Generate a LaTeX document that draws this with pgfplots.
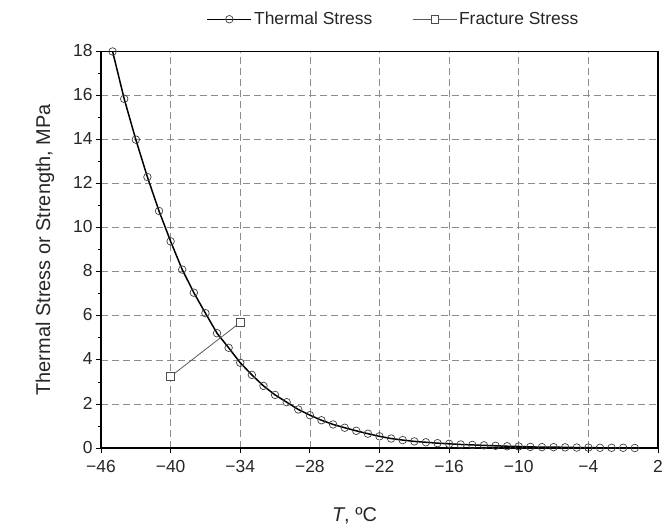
\documentclass[border=0pt]{standalone}
\usepackage{pgfplots}
\pgfplotsset{compat=1.18}
\usepackage{fontspec}
\setmainfont{Liberation Sans}
\usetikzlibrary{calc}
\begin{document}
\begin{tikzpicture}
\begin{axis}[
  name=ax,
  scale only axis,
  width=557bp, height=396.5bp,
  xmin=-46, xmax=2, ymin=0, ymax=18,
  xtick={-46,-40,-34,-28,-22,-16,-10,-4,2},
  xticklabels={−46,−40,−34,−28,−22,−16,−10,−4,2},
  ytick={0,2,4,6,8,10,12,14,16,18},
  minor y tick num=1,
  tick align=outside,
  xtick pos=left, ytick pos=left,
  major tick length=5bp, minor tick length=3bp,
  tick style={black, line width=0.8pt},
  axis line style={black, line width=1.4pt},
  grid=major,
  major grid style={dashed, gray!90, line width=0.7pt, dash pattern=on 7pt off 4pt},
  /pgf/number format/assume math mode=true,
  tick label style={font=\fontsize{17.5}{20}\selectfont, text=black!85},
  xticklabel style={yshift=-4bp},
  yticklabel style={yshift=1bp},
  label style={font=\fontsize{20}{23}\selectfont, text=black!85},
  xlabel={\textit{T}, ºC},
  ylabel={Thermal Stress or Strength, MPa},
  xlabel style={yshift=-28bp, xshift=-25bp},
  ylabel style={yshift=12bp},
  legend style={at={(0.525,1)}, anchor=south, yshift=21bp, draw=none, fill=none,
    font=\fontsize{17.5}{20}\selectfont, text=black!85,
    /tikz/every even column/.append style={column sep=38bp}},
  legend columns=2,
  legend cell align=left,
  legend image code/.code={\draw[mark repeat=2,mark phase=2,#1] plot coordinates {(0bp,0bp) (22bp,0bp) (44bp,0bp)};},
]
\addplot[black, line width=1.5pt, mark=o, mark size=3.8pt,
  mark options={solid, draw=black!75, fill=none, line width=0.7pt}] coordinates {
(-45,18.0) (-44,15.85) (-43,14.0) (-42,12.3) (-41,10.76) (-40,9.38)
(-39,8.1) (-38,7.05) (-37,6.12) (-36,5.21) (-35,4.55) (-34,3.87)
(-33,3.32) (-32,2.82) (-31,2.41) (-30,2.08) (-29,1.75) (-28,1.49)
(-27,1.26) (-26,1.07) (-25,0.92) (-24,0.78) (-23,0.65) (-22,0.53)
(-21,0.43) (-20,0.36) (-19,0.30) (-18,0.26) (-17,0.22) (-16,0.19)
(-15,0.16) (-14,0.14) (-13,0.12) (-12,0.10) (-11,0.08) (-10,0.07)
(-9,0.05) (-8,0.04) (-7,0.04) (-6,0.03) (-5,0.02) (-4,0.02)
(-3,0.01) (-2,0.01) (-1,0.01) (0,0.00)
};
\addlegendentry{Thermal Stress}
\addplot[black!65, line width=0.8pt, mark=square*, mark size=3.8pt,
  mark options={solid, draw=black!70, fill=white, line width=0.7pt}] coordinates {
(-40,3.25) (-34,5.7)
};
\addlegendentry{Fracture Stress}
\end{axis}
\pgfresetboundingbox
\path[use as bounding box] ($(ax.south west)+(-101bp,-78bp)$) rectangle ($(ax.north east)+(4bp,51.5bp)$);
\end{tikzpicture}
\end{document}
